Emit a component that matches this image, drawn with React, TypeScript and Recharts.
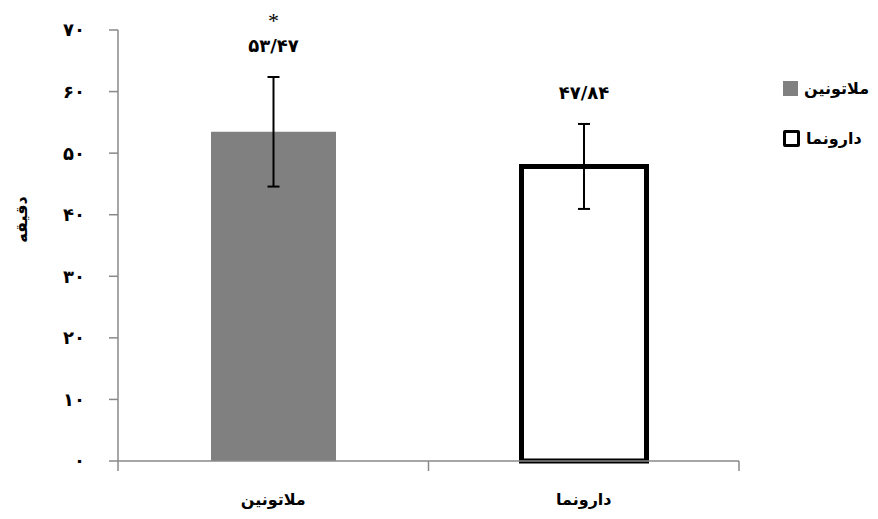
import React from 'react';
import {
  BarChart,
  Bar,
  XAxis,
  YAxis,
  ErrorBar,
  Cell,
  LabelList
} from 'recharts';

const categories = ['ملاتونین', 'دارونما'];
const means = [53.47, 47.84];
const errors = [8.9, 6.9];
const marks = ['*', ''];
const yTicks = [0, 10, 20, 30, 40, 50, 60, 70];

const FONT = '"DejaVu Sans", sans-serif';
const AXIS = '#898989';

// svg covers the whole page (body margin cancelled below)
const W = 878;
const H = 519;
const M = { top: 30, right: 139, left: 0, bottom: 18 };
const Y_W = 118;

const toFa = (s: string) => s.replace(/\d/g, (d) => '۰۱۲۳۴۵۶۷۸۹'[Number(d)]);

const data = categories.map((name, i) => ({
  name,
  value: means[i],
  err: errors[i],
  mark: marks[i]
}));

const barStyles = [
  { fill: '#808080', stroke: 'none', strokeWidth: 0 },
  { fill: '#ffffff', stroke: '#000000', strokeWidth: 5 }
];

// half a category band, ticks sit on the band edges like Excel
const HALF_BAND = (W - M.right - M.left - Y_W) / categories.length / 2;

const XTick = (props: any) => {
  const { x, y, payload, index } = props;
  return (
    <g>
      <line x1={x - HALF_BAND} y1={y - 8} x2={x - HALF_BAND} y2={y + 2} stroke={AXIS} strokeWidth={1.5} />
      {index === categories.length - 1 && (
        <line x1={x + HALF_BAND} y1={y - 8} x2={x + HALF_BAND} y2={y + 2} stroke={AXIS} strokeWidth={1.5} />
      )}
      <text x={x} y={y + 31} textAnchor="middle" dominantBaseline="middle"
        fontFamily={FONT} fontWeight="bold" fontSize={16} fill="#000">
        {payload.value}
      </text>
    </g>
  );
};

const ValueLabel = (props: any) => {
  const { x, y, width, height, value, index } = props;
  const errPx = (height * errors[index]) / value;
  const cx = x + width / 2;
  const ty = y - errPx - 30;
  return (
    <g>
      <text x={cx} y={ty} textAnchor="middle" dominantBaseline="middle"
        fontFamily={FONT} fontWeight="bold" fontSize={18} fill="#000">
        {toFa(value.toFixed(2).replace('.', '/'))}
      </text>
      {marks[index] && (
        <text x={cx} y={ty - 19} textAnchor="middle"
          fontFamily="Liberation Serif, serif" fontSize={22} fill="#000">
          {marks[index]}
        </text>
      )}
    </g>
  );
};

const LegendBox = () => (
  <div style={{ position: 'absolute', left: 783, top: 76, fontFamily: FONT, fontWeight: 'bold', fontSize: 16 }}>
    {categories.map((name, i) => (
      <div key={name} style={{ display: 'flex', alignItems: 'center', height: 24, marginBottom: 26 }}>
        <span
          style={{
            display: 'inline-block',
            width: i === 0 ? 15 : 11,
            height: i === 0 ? 15 : 11,
            background: barStyles[i].fill,
            border: i === 0 ? 'none' : '3px solid #000',
            borderRadius: i === 0 ? 0 : 2,
            marginRight: 6
          }}
        />
        <span>{name}</span>
      </div>
    ))}
  </div>
);

export default function App() {
  return (
    <div style={{ position: 'relative', width: W, height: H, margin: -8 }}>
      <BarChart width={W} height={H} data={data} margin={M} barSize={125}>
        <XAxis
          dataKey="name"
          height={40}
          axisLine={{ stroke: AXIS, strokeWidth: 1.5 }}
          tickLine={false}
          tick={<XTick />}
          interval={0}
        />
        <YAxis
          width={Y_W}
          domain={[0, 70]}
          ticks={yTicks}
          tickSize={9}
          tickMargin={24}
          axisLine={{ stroke: AXIS, strokeWidth: 1.5 }}
          tickLine={{ stroke: AXIS, strokeWidth: 1.5 }}
          tickFormatter={(v: number) => toFa(String(v))}
          tick={{ fontFamily: FONT, fontWeight: 'bold', fontSize: 18, fill: '#000' }}
          label={{
            content: ({ viewBox }: any) => {
              const lx = viewBox.x + 22;
              const ly = viewBox.y + viewBox.height / 2 - 26;
              return (
                <text x={lx} y={ly} transform={`rotate(-90, ${lx}, ${ly})`} textAnchor="middle"
                  dominantBaseline="middle" fontFamily={FONT} fontWeight="bold" fontSize={16} fill="#000">
                  دقیقه
                </text>
              );
            }
          }}
        />
        <Bar dataKey="value" isAnimationActive={false}>
          {data.map((d, i) => (
            <Cell key={d.name} fill={barStyles[i].fill} stroke={barStyles[i].stroke} strokeWidth={barStyles[i].strokeWidth} />
          ))}
          <ErrorBar dataKey="err" direction="y" width={6} stroke="#000" strokeWidth={2} />
          <LabelList dataKey="value" content={<ValueLabel />} />
        </Bar>
      </BarChart>
      <LegendBox />
    </div>
  );
}
